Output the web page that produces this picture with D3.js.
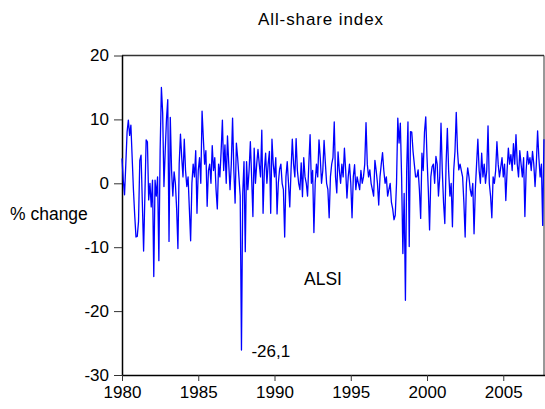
<!DOCTYPE html>
<html>
<head>
<meta charset="utf-8">
<script src="https://cdn.jsdelivr.net/npm/d3@7"></script>
<style>
  body { margin: 0; background: #fff; }
  svg text { font-family: Arial, "Liberation Sans", sans-serif; fill: #000; }
</style>
</head>
<body>
<div id="chart"></div>
<script>
// monthly % change of the all-share index, Jan 1980 onwards
var startYear = 1980
var alsiChange = [
  3.9, 0.5, -1.8, 3, 8, 9.9, 7.5, 9.1, 4, -1, -5, -8.4,
  -8.3, -6, 3.6, 4.4, -3, -10.6, -2, 6.8, 6.5, -2.6, 0, -3.7,
  0.5, -14.6, 0.5, -2, 1, -12.1, 5, 15, 11, -0.5, 5, 10,
  13.1, -9.1, 10.3, 2, -2, 1.8, 0, -4, -10.2, 3, 7.7, 4,
  1, 6.9, 2, -0.5, 1, -4, -9, 0, 3, 1, 5.1, -4.7,
  2, 4, 0, 11.3, 7, 3, 5.1, -3.6, 2, 3, 0, 5.9,
  2, 4, -1, -4, 3, 1, 5, 9.9, 2, 6, 0, 7.4,
  3, -1, 3, 10.2, 2, -3.1, 6.3, 4, 1, -2, -26.1, -1.6,
  3.4, -10.7, 3.4, -1, 2, 6.5, 1, -5.2, 5.5, 0, 3, 5.3,
  3, 1, 8.3, -4.7, 2, 4.7, 0, 3, 5, -4.7, 6.9, 3,
  1, 4, -4.8, 0, 2.2, 3, 0, -1, -8.4, 1, 3.4, 0,
  -3.7, 2, 6.9, 3, 1, 7, 2, 0, -1, 3.2, -2.1, 4,
  1, 0, -2, 3, 7.6, 0, 2, -7.7, 0, 3, 1, 6.8,
  4, 0, 2, 6.7, 3.2, 0, -1, -5.4, 1, 3, 4, 9.6,
  1, -1.5, 4.9, 2, 0, 3, 1, 5.5, 2, -2.3, 1, 3,
  0, -5.4, 1, 2.9, -1, 1, 0, -1, 2, 0, 1, 3,
  9.5, 3, 1, 2.1, 0, -1, -2, 3.6, 2, 0, -3.4, 1,
  3, 4.8, 2, 0, 1, -2, -1, 0, -3, -4, -5.7, -5,
  0, 10.2, 6.3, 9.4, 1, -11, -1.6, -18.3, 2, 9.6, -9.9, 8.1,
  8, 5, 3, 1, 1, 2.1, -1, -5.5, 4.7, 2, 8, 10.4,
  4, -1, -7.3, 1, 2.6, 3, 0, 4.2, 3, -2, 1, 9.4,
  2, -3, -6.3, 3, 8.6, 2, -2, 0, -6.8, 2, 5, 11.1,
  5, 2.1, 3, 2, 1, -3, -8.4, 0, 2.4, 1, -1, -2,
  0, -7.9, -1, 3, 6.9, 2, 0, 4.7, 1, 3, 0, 2,
  9, 0, -2, -5.4, 1, 0, 2, 6.5, 3, 1, 2.5, 4,
  1, 3, -2.7, 2, 5.5, 3, 4.5, 2, 6.2, 3, 7.6, 3,
  1, 5.1, 3, 1, 4, -5.2, 2, 5, 3, 4, 2, 5,
  3, -0.5, 3, 8.2, 4, 1, 3, -6.6, 6.9
]
var xTicks = [1980, 1985, 1990, 1995, 2000, 2005]
var yTicks = [-30, -20, -10, 0, 10, 20]
var minLabel = "-26,1"
var seriesLabel = "ALSI"

var w = 545
var h = 409
var mLeft = 122, mRight = 544, mTop = 55.5, mBottom = 375

var svg = d3.select("#chart").append("svg").attr("width", w).attr("height", h)

var xScale = d3.scaleLinear().domain([1980, 2007.67]).range([mLeft, mRight])
var yScale = d3.scaleLinear().domain([-30, 20]).range([mBottom, mTop])

// title
svg.append("text")
   .attr("x", 321).attr("y", 25)
   .attr("text-anchor", "middle")
   .style("font-size", "17px")
   .style("letter-spacing", "0.9px")
   .text("All-share index")

// frame (top + right)
svg.append("line").attr("x1", mLeft).attr("x2", mRight).attr("y1", mTop).attr("y2", mTop)
   .attr("stroke", "#333").attr("stroke-width", 1.5)
svg.append("line").attr("x1", mRight).attr("x2", mRight).attr("y1", mTop).attr("y2", mBottom)
   .attr("stroke", "#333").attr("stroke-width", 1)

// axes (plain hyphen for negatives, like the original)
var yAxis = svg.append("g")
    .attr("transform", "translate(" + mLeft + ",0)")
    .call(d3.axisLeft(yScale).tickValues(yTicks).tickFormat(function(d){ return String(d) }).tickSize(8).tickPadding(5))
var xAxis = svg.append("g")
    .attr("transform", "translate(0," + mBottom + ")")
    .call(d3.axisBottom(xScale).tickValues(xTicks).tickFormat(function(d){ return String(d) }).tickSize(6).tickPadding(5))

svg.selectAll(".domain").attr("stroke", "#000").attr("stroke-width", 1.5)
svg.selectAll(".tick line").attr("stroke", "#333")
svg.selectAll(".tick text").style("font-size", "17px").style("font-family", "Arial, 'Liberation Sans', sans-serif").attr("fill", "#000")
yAxis.select(".domain").attr("d", "M0.5," + mTop + "V" + mBottom)
xAxis.select(".domain").attr("d", "M" + mLeft + ",0.5H" + (mRight + 1))

// series
var line = d3.line()
    .x(function(d, i) { return xScale(startYear + i / 12) })
    .y(function(d) { return yScale(d) })

svg.append("path")
   .datum(alsiChange)
   .attr("d", line)
   .attr("fill", "none")
   .attr("stroke", "#0000ff")
   .attr("stroke-width", 1.3)
   .attr("stroke-linejoin", "round")

// annotations
var minIdx = d3.minIndex(alsiChange)
svg.append("text")
   .attr("x", xScale(startYear + minIdx / 12) + 10)
   .attr("y", yScale(alsiChange[minIdx]) + 7)
   .style("font-size", "17px")
   .text(minLabel)

svg.append("text")
   .attr("x", 304).attr("y", 285)
   .style("font-size", "17.5px")
   .text(seriesLabel)

svg.append("text")
   .attr("x", 10).attr("y", 220)
   .style("font-size", "17.5px")
   .text("% change")
</script>
</body>
</html>
